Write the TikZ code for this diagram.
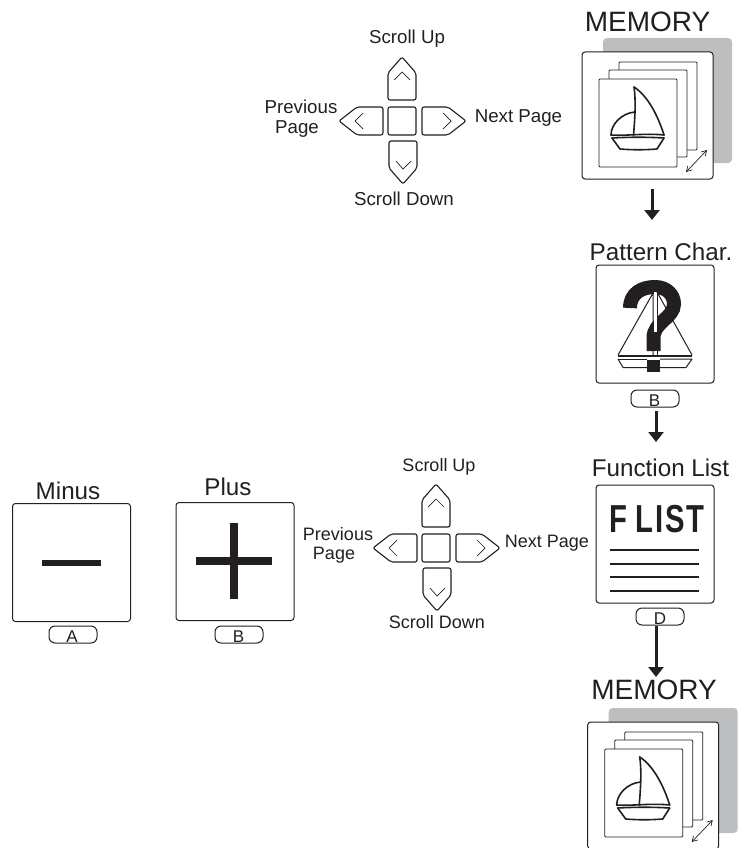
\documentclass[tikz,border=0pt]{standalone}
\usepackage{fontspec}
\setmainfont{Liberation Sans}
\usetikzlibrary{arrows.meta}
\definecolor{ink}{HTML}{231F20}
\definecolor{backdrop}{HTML}{BCBEC0}
\tikzset{
  x=1pt,y=-1pt,
  every node/.style={inner sep=0pt,outer sep=0pt,text=ink,align=center},
  panel/.style={draw=ink,line width=1pt,rounded corners=3pt,fill=white,minimum width=118pt,minimum height=118pt},
  title/.style={font=\fontsize{24.2}{26}\selectfont},
  bigtitle/.style={font=\fontsize{28}{30}\selectfont},
  smalltop/.style={font=\fontsize{18.7}{21}\selectfont},
  smalllow/.style={font=\fontsize{18}{21}\selectfont},
  btn/.style={draw=ink,line width=1pt,rounded corners=6pt,fill=white,minimum width=48pt,minimum height=17pt},
  btnlabel/.style={font=\fontsize{17}{19}\selectfont},
  keyshape/.style={draw=ink,line width=1.1pt,rounded corners=2pt},
  chev/.style={draw=ink,line width=0.7pt},
  flow/.style={draw=ink,line width=3pt,-{Triangle[width=15pt,length=10pt]}},
  card/.style={draw=ink,line width=0.9pt,rounded corners=1pt,fill=white},
  boatline/.style={draw=ink,line width=1.6pt,line join=round,line cap=round},
  rule/.style={draw=ink,line width=1.7pt},
}
\newcommand{\dpadshape}[2]{%
  \begin{scope}[shift={(#1,#2)}]
    \draw[keyshape] (0,0) rectangle (28,28);
    \draw[keyshape] (0,-7) -- (0,-34) -- (14,-50) -- (28,-34) -- (28,-7) -- cycle;
    \draw[keyshape] (1,34) -- (29,34) -- (29,61) -- (15,77) -- (1,61) -- cycle;
    \draw[keyshape] (-5,0) -- (-31,0) -- (-49,14) -- (-31,28) -- (-5,28) -- cycle;
    \draw[keyshape] (34,0) -- (60,0) -- (78,14) -- (60,28) -- (34,28) -- cycle;
    \draw[chev] (6,-27) -- (14,-35) -- (22,-27);
    \draw[chev] (8,54) -- (15,62) -- (23,54);
    \draw[chev] (-25,6) -- (-33,14) -- (-25,22);
    \draw[chev] (55,6) -- (63,14) -- (55,22);
  \end{scope}}
\newcommand{\memorystack}[2]{%
  \begin{scope}[shift={(#1,#2)}]
    \fill[backdrop,rounded corners=4pt] (603,38) rectangle (732,163);
    \draw[draw=ink,line width=1pt,rounded corners=3pt,fill=white] (582,52) rectangle (713,179);
    \draw[card] (619,62) rectangle (697,150);
    \draw[card] (609,70) rectangle (687,157);
    \draw[card] (599,79) rectangle (677,167);
    \draw[boatline] (634,87) .. controls (636,100) and (635,118) .. (633.5,135);
    \draw[boatline] (634,87) .. controls (648,96) and (658,116) .. (664,135);
    \draw[boatline] (635,112) .. controls (622,113) and (611,124) .. (611,135);
    \draw[boatline] (611,135) .. controls (628,136) and (645,133) .. (664,135);
    \draw[boatline] (612,138) .. controls (630,137) and (648,137) .. (664,138);
    \draw[boatline] (612,138) -- (620,149) .. controls (632,150) and (645,150) .. (657,149) -- (664,138);
    \draw[draw=ink,line width=0.7pt,{Straight Barb[length=5pt,width=6pt]}-{Straight Barb[length=5pt,width=6pt]}] (686,172) -- (707,150);
  \end{scope}}
\begin{document}
\begin{tikzpicture}
\useasboundingbox (0,0) rectangle (751,848);
% top memory
\memorystack{0}{0}
\node[bigtitle] (memtop) at (647.5,22) {MEMORY};
\coordinate (a1s) at (652,189);
\coordinate (a1e) at (652,220);
\draw[flow] (a1s) -- (a1e);
% top d-pad
\dpadshape{388}{107}
\node[smalltop] (up1) at (407,38.5) {Scroll Up};
\node[smalltop] (dn1) at (404,199) {Scroll Down};
\node[smalltop] (pv1) at (301,107) {Previous};
\node[smalltop] (pg1) at (297,129.5) {Page};
\node[smalltop] (nx1) at (518.5,118) {Next Page};
% pattern char
\node[title] (pattitle) at (661,252) {Pattern Char.};
\node[panel] (pat) at (655,324) {};
\draw[draw=ink,line width=14pt,line cap=butt] (630,308) .. controls (630,293) and (642,287) .. (655,287) .. controls (667,287) and (674,295) .. (674,304) .. controls (674,318) and (653.5,322) .. (653.5,338) -- (653.5,351);
\fill[ink] (647,360) rectangle (660,372);
\fill[white] (654,292) rectangle (656.5,332);
\fill[white] (654,351) rectangle (656.5,355);
\draw[draw=ink,line width=1pt,line join=miter] (618,355) -- (653,293) -- (653,355);
\draw[draw=ink,line width=1pt] (657,292) -- (657,355);
\draw[draw=ink,line width=1pt] (657,292) -- (692,355);
\draw[draw=ink,line width=1.6pt] (618,356) -- (692,356);
\draw[draw=ink,line width=1pt,line join=round] (618,359) -- (623,367.5) -- (647,367.5);
\draw[draw=ink,line width=1pt,line join=round] (660,367.5) -- (686,367.5) -- (692,359) -- (660,359);
\draw[draw=ink,line width=1pt] (647,359) -- (618,359);
\node[btn] (btnb1) at (655,398.5) {};
\node[btnlabel] at (654.5,401) (lb1) {B};
\coordinate (a2s) at (656,411);
\coordinate (a2e) at (656,442);
\draw[flow] (a2s) -- (a2e);
% function list
\node[title] (fltitle) at (660.5,468) {Function List};
\node[panel] (fl) at (655,544) {};
\node (fltext) at (656.5,519) {\scalebox{0.75}[1]{\fontsize{39}{40}\selectfont\bfseries F\kern12pt L\kern2pt I\kern2pt S\kern2pt T}};
\coordinate (r1a) at (610,550); \coordinate (r1b) at (699,550);
\coordinate (r2a) at (610,564); \coordinate (r2b) at (699,564);
\coordinate (r3a) at (610,577); \coordinate (r3b) at (699,577);
\coordinate (r4a) at (610,591); \coordinate (r4b) at (699,591);
\draw[rule] (r1a) -- (r1b);
\draw[rule] (r2a) -- (r2b);
\draw[rule] (r3a) -- (r3b);
\draw[rule] (r4a) -- (r4b);
\node[btn] (btnd) at (660,616.5) {};
\node[btnlabel] (ld) at (660,619) {D};
\coordinate (a3s) at (656,626);
\coordinate (a3e) at (656,677);
\draw[flow] (a3s) -- (a3e);
% lower d-pad
\dpadshape{422}{534}
\node[smalllow] (up2) at (439,467) {Scroll Up};
\node[smalllow] (dn2) at (437,622) {Scroll Down};
\node[smalllow] (pv2) at (338,534) {Previous};
\node[smalllow] (pg2) at (334,555.5) {Page};
\node[smalllow] (nx2) at (547,543) {Next Page};
% minus
\node[title] (mintitle) at (68,491) {Minus};
\node[panel] (minus) at (71.5,562.5) {};
\fill[ink] (42,560) rectangle (101,566);
\node[btn] (btna) at (73,634.5) {};
\node[btnlabel] (la) at (72,637) {A};
% plus
\node[title] (plustitle) at (228,487) {Plus};
\node[panel] (plus) at (235,561.5) {};
\fill[ink] (196,557) rectangle (272,565);
\fill[ink] (230,523) rectangle (238,599);
\node[btn] (btnb2) at (239,634.5) {};
\node[btnlabel] (lb2) at (238.5,637) {B};
% bottom memory
\memorystack{5.7}{670}
\node[bigtitle] (membot) at (654,690) {MEMORY};
\end{tikzpicture}
\end{document}
